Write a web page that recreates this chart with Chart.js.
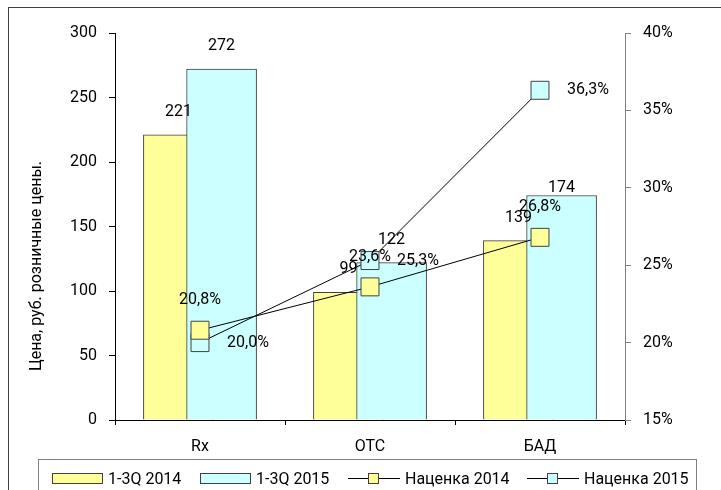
<!DOCTYPE html>
<html>
<head>
<meta charset="utf-8">
<script src="https://cdn.jsdelivr.net/npm/chart.js@4.4.1/dist/chart.umd.min.js"></script>
<style>
  body { margin: 0; background: #fff; }
  #wrap { position: relative; width: 721px; height: 490px; overflow: hidden; font-family: Roboto, sans-serif; }
  #frame { position: absolute; left: 8px; top: 7px; width: 760px; height: 520px; border: 1px solid #404040; }
  #chart { position: absolute; left: 0; top: 0; }
  #legend { position: absolute; left: 38px; top: 459px; width: 659px; height: 50px; border: 1px solid #808080; box-sizing: border-box; }
  .item { position: absolute; top: 9px; display: flex; align-items: center; height: 18px; font-size: 16px; color: #000; white-space: nowrap; }
  .swatch { width: 49px; height: 9px; border: 1px solid #404040; margin-right: 5px; }
  .sym { position: relative; width: 52px; height: 18px; margin-right: 5px; }
  .sym .ln { position: absolute; left: 0; right: 0; top: 9px; height: 1px; background: #000; }
  .sym .sq { position: absolute; left: 20px; top: 4px; width: 9px; height: 9px; border: 1px solid #404040; }
</style>
</head>
<body>
<div id="wrap">
  <div id="frame"></div>
  <canvas id="chart" width="721" height="490"></canvas>
  <div id="legend"></div>
</div>
<script>
const categories = ["Rx", "OTC", "БАД"];
const price2014 = [221, 99, 139];
const price2015 = [272, 122, 174];
const markup2014 = [20.8, 23.6, 26.8];
const markup2015 = [20.0, 25.3, 36.3];
const seriesNames = ["1-3Q 2014", "1-3Q 2015", "Наценка 2014", "Наценка 2015"];
const yTitle = "Цена, руб. розничные цены.";

const YELLOW = "#ffff99";
const CYAN = "#ccffff";
const EDGE = "#404040";
const FONT = "Roboto, sans-serif";
const FSIZE = 16;

// bars of one category overlap: each year sits on its own hidden linear axis
const barShift = 0.127;
// how far the price labels sit above their bars
const barLabelLift = [[23, 23, 23], [23, 23, 8]];

const fmtPct = v => v.toFixed(1).replace(".", ",") + "%";

const labelsPlugin = {
  id: "labels",
  afterDatasetsDraw(chart) {
    const ctx = chart.ctx;
    ctx.save();
    ctx.font = FSIZE + "px " + FONT;
    ctx.fillStyle = "#000";
    ctx.textBaseline = "middle";

    [0, 1].forEach(d => {
      chart.getDatasetMeta(d).data.forEach((bar, i) => {
        ctx.textAlign = "center";
        ctx.fillText(String(chart.data.datasets[d].data[i].y), bar.x, bar.y - barLabelLift[d][i]);
      });
    });

    chart.getDatasetMeta(2).data.forEach((pt, i) => {
      ctx.textAlign = "center";
      ctx.fillText(fmtPct(markup2014[i]), pt.x, pt.y - 30);
    });
    chart.getDatasetMeta(3).data.forEach((pt, i) => {
      ctx.textAlign = "left";
      ctx.fillText(fmtPct(markup2015[i]), pt.x + 27, pt.y);
    });

    // axis title for the price scale
    ctx.translate(37, 266);
    ctx.rotate(-Math.PI / 2);
    ctx.textAlign = "center";
    ctx.fillText(yTitle, 0, 0);
    ctx.restore();
  }
};

const hiddenX = () => ({ type: "linear", display: false, min: -0.5, max: 2.5, offset: false });
const tickFont = { family: FONT, size: FSIZE };

const chart = new Chart(document.getElementById("chart"), {
  type: "bar",
  data: {
    labels: categories,
    datasets: [
      {
        label: seriesNames[0],
        data: price2014.map((v, i) => ({ x: i - barShift, y: v })),
        xAxisID: "xa", yAxisID: "y",
        backgroundColor: YELLOW, borderColor: EDGE, borderWidth: 1,
        grouped: false, barThickness: 70, maxBarThickness: 70, order: 3
      },
      {
        label: seriesNames[1],
        data: price2015.map((v, i) => ({ x: i + barShift, y: v })),
        xAxisID: "xb", yAxisID: "y",
        backgroundColor: CYAN, borderColor: EDGE, borderWidth: 1,
        grouped: false, barThickness: 70, maxBarThickness: 70, order: 2
      },
      {
        type: "line",
        label: seriesNames[2],
        data: markup2014.map(v => v / 100),
        xAxisID: "x", yAxisID: "y1",
        borderColor: "#000", borderWidth: 1,
        pointStyle: "rect", pointRadius: 12.7,
        pointBackgroundColor: YELLOW, pointBorderColor: EDGE, pointBorderWidth: 1,
        order: 1
      },
      {
        type: "line",
        label: seriesNames[3],
        data: markup2015.map(v => v / 100),
        xAxisID: "x", yAxisID: "y1",
        borderColor: "#000", borderWidth: 1,
        pointStyle: "rect", pointRadius: 12.7,
        pointBackgroundColor: CYAN, pointBorderColor: EDGE, pointBorderWidth: 1,
        order: 1
      }
    ]
  },
  options: {
    responsive: false,
    animation: false,
    layout: { padding: { left: 0, right: 0, top: 33, bottom: 0 } },
    plugins: { legend: { display: false }, tooltip: { enabled: false } },
    scales: {
      xa: hiddenX(),
      xb: hiddenX(),
      x: {
        type: "category",
        position: "bottom",
        offset: true,
        afterFit: s => { s.height = 70; },
        grid: { offset: true, drawOnChartArea: false, color: "#000", tickLength: 5 },
        border: { color: "#000" },
        ticks: { color: "#000", font: tickFont, padding: 12 }
      },
      y: {
        position: "left",
        min: 0, max: 300,
        afterFit: s => { s.width = 115; },
        grid: { drawOnChartArea: false, color: "#000", tickLength: 6 },
        border: { color: "#000" },
        ticks: { stepSize: 50, color: "#000", font: tickFont, padding: 12 }
      },
      y1: {
        position: "right",
        min: 0.15, max: 0.40,
        afterFit: s => { s.width = 96; },
        grid: { drawOnChartArea: false, color: "#808080", tickLength: 6 },
        border: { color: "#808080" },
        ticks: {
          stepSize: 0.05, color: "#000", font: tickFont, padding: 12,
          callback: v => Math.round(v * 100) + "%"
        }
      }
    }
  },
  plugins: [labelsPlugin]
});

// legend drawn from the chart's own datasets
const legendEl = document.getElementById("legend");
const legendLeft = [13, 161, 309, 488];
chart.data.datasets.forEach((ds, i) => {
  const item = document.createElement("div");
  item.className = "item";
  item.style.left = legendLeft[i] + "px";
  if (ds.type === "line") {
    item.innerHTML = '<span class="sym"><span class="ln"></span><span class="sq" style="background:' +
      ds.pointBackgroundColor + '"></span></span>';
  } else {
    item.innerHTML = '<span class="swatch" style="background:' + ds.backgroundColor + '"></span>';
  }
  const txt = document.createElement("span");
  txt.textContent = ds.label;
  item.appendChild(txt);
  legendEl.appendChild(item);
});
</script>
</body>
</html>
